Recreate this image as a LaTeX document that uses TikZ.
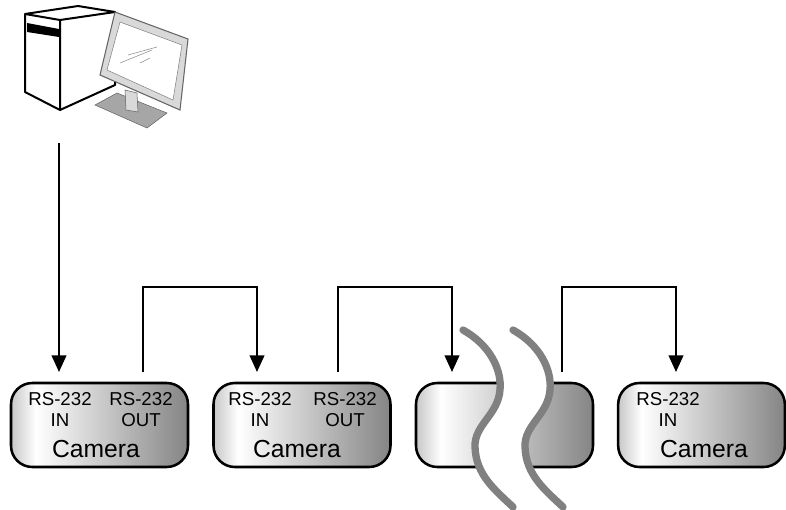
\documentclass[tikz,border=0pt]{standalone}
\usepackage{fontspec}
\setmainfont{Liberation Sans}
\usetikzlibrary{arrows.meta}
\pgfdeclarehorizontalshading{camfill}{100bp}{color(0bp)=(black!22); color(25bp)=(black!22); color(32bp)=(white); color(75bp)=(black!48); color(100bp)=(black!48)}
\begin{document}
\begin{tikzpicture}[x=0.75pt,y=-0.75pt,
    cam/.style={draw,line width=1.9pt,rounded corners=16pt,shading=camfill,minimum width=132.75pt,minimum height=63pt,inner sep=0pt},
    port/.style={anchor=base,inner sep=0pt,font=\fontsize{14}{15}\selectfont},
    camtext/.style={anchor=base,inner sep=0pt,font=\fontsize{18.5}{19}\selectfont},
    link/.style={line width=1.5pt,-{Triangle[length=12.5pt,width=11pt]}},
    wave/.style={line width=5.5pt,draw=black!50,line cap=round}]
  \useasboundingbox (0,0) rectangle (786,510);
	  % computer
	  \draw[line width=1.5pt,fill=white,line join=round] (25,14) -- (78,6) -- (115,12) -- (115,85) -- (60,110) -- (25,92) -- cycle;
	  \draw[line width=1.5pt,line join=round] (25,14) -- (60,20) -- (115,12) (60,20) -- (60,110);
	  \fill (27,23) -- (59,29) -- (59,37) -- (27,32) -- cycle;
	  \draw[draw=black!60,fill=black!35] (95,105) -- (117,93) -- (167,113) -- (147,128) -- cycle;
	  \draw[draw=black!60,fill=black!15] (125,90) -- (137,93) -- (138,112) -- (126,110) -- cycle;
	  \draw[draw=black!60,line width=0.8pt,fill=black!15] (115,12) -- (188,39) -- (180,110) -- (100,75) -- cycle;
	  \draw[draw=black!50,fill=white] (120,22) -- (182,45) -- (173,100) -- (107,70) -- cycle;
	  \draw[black!45] (128,55) -- (157,47) (120,63) -- (152,50) (140,63) -- (150,58);
	  \coordinate (pc) at (59,143);
	  % cameras
	  \node[cam] (cam1) at (99.5,425) {};
	  \node[cam] (cam2) at (302,425) {};
	  \node[cam] (cam3) at (504.5,425) {};
	  \node[cam,minimum width=125pt] (cam4) at (701.5,425) {};
	  \node[port] (rs1) at (60,405.5) {RS-232};
	  \node[port] (in1) at (60,426.5) {IN};
	  \node[port] (rso1) at (141,405.5) {RS-232};
	  \node[port] (out1) at (141,426.5) {OUT};
	  \node[camtext] (txt1) at (96,457) {Camera};
	  \node[port] (rs2) at (260,405.5) {RS-232};
	  \node[port] (in2) at (260,426.5) {IN};
	  \node[port] (rso2) at (345,405.5) {RS-232};
	  \node[port] (out2) at (345,426.5) {OUT};
	  \node[camtext] (txt2) at (297,457) {Camera};
	  \node[port] (rs4) at (668,405.5) {RS-232};
	  \node[port] (in4) at (668,426.5) {IN};
	  \node[camtext] (txt4) at (704,457) {Camera};
	  % links
	  \coordinate (i1) at (59,372);
	  \coordinate (o1) at (143,372);
	  \coordinate (i2) at (257,372);
	  \coordinate (o2) at (338,372);
	  \coordinate (i3) at (452,372);
	  \coordinate (o3) at (562,372);
	  \coordinate (i4) at (676,372);
	  \draw[link] (pc) -- (i1);
	  \draw[link] (o1) -- ++(0,-85) -| (i2);
	  \draw[link] (o2) -- ++(0,-85) -| (i3);
	  \draw[link] (o3) -- ++(0,-85) -| (i4);
	  % break
	  \fill[white] (463,330) .. controls (490,345) and (502,370) .. (500,390) .. controls (498,415) and (474,425) .. (475,447) .. controls (476,475) and (495,490) .. (513,507) -- (563,507) .. controls (545,490) and (526,475) .. (525,447) .. controls (524,425) and (548,415) .. (550,390) .. controls (552,370) and (540,345) .. (513,330) -- cycle;
	  \foreach \s in {0,50}
	    \draw[wave,xshift=\s*0.75pt] (463,330) .. controls (490,345) and (502,370) .. (500,390) .. controls (498,415) and (474,425) .. (475,447) .. controls (476,475) and (495,490) .. (513,507);
	\end{tikzpicture}
\end{document}
